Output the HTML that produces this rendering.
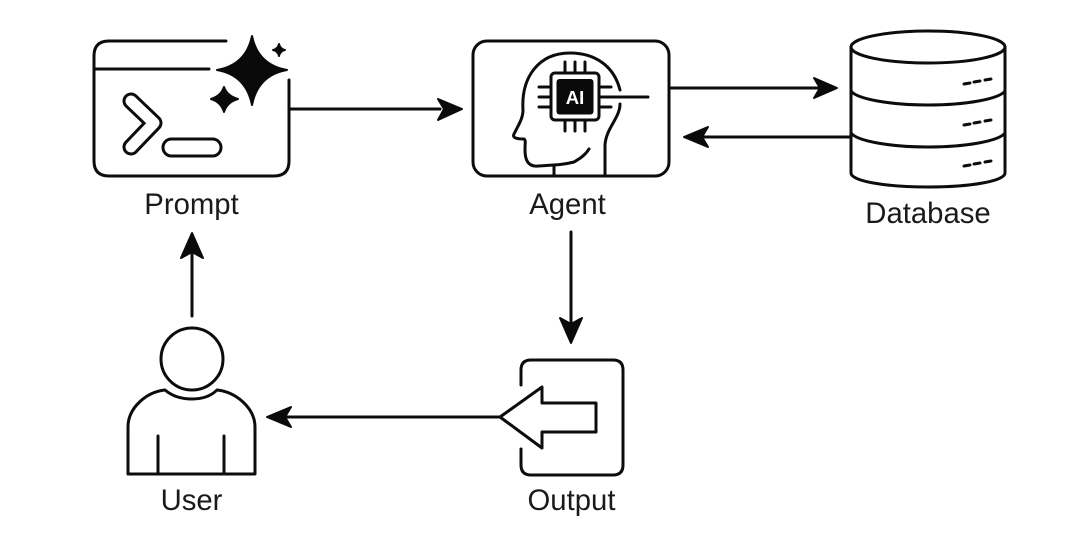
<!DOCTYPE html>
<html>
<head>
<meta charset="utf-8">
<style>
html,body{margin:0;padding:0;background:#fff;width:1080px;height:559px;overflow:hidden}
svg{display:block;filter:blur(.35px)}
text{font-family:"Liberation Sans",Arial,sans-serif;font-size:29.3px;fill:#1a1a1a;text-anchor:middle}
.s{fill:none;stroke:#0c0c0c;stroke-width:3;stroke-linecap:round;stroke-linejoin:round}
.f{fill:#0a0a0a;stroke:#0a0a0a;stroke-width:2;stroke-linejoin:round}
</style>
</head>
<body>
<svg width="1080" height="559" viewBox="0 0 1080 559" xmlns="http://www.w3.org/2000/svg">
<rect width="1080" height="559" fill="#fff"/>

<!-- Prompt -->
<path class="s" d="M226 41H109Q94 41 94 56V161Q94 176 109 176H274Q289 176 289 161V80"/>
<path class="s" d="M94 69H209"/>
<path class="f" d="M252 36Q258 65 287 70Q258 75 252 105Q246 75 217 70Q246 65 252 36Z"/>
<path class="f" d="M224 87Q227 96 238 99Q227 102 224 112Q221 102 211 99Q221 96 224 87Z"/>
<path class="f" stroke-width="1" d="M279 44Q280 49 285 50Q280 51 279 56Q278 51 273 50Q278 49 279 44Z"/>
<path fill="none" stroke="#0c0c0c" stroke-width="17" stroke-linecap="round" stroke-linejoin="round" d="M131 101L154 123L131 147"/>
<path fill="none" stroke="#fff" stroke-width="11" stroke-linecap="round" stroke-linejoin="round" d="M131 101L154 123L131 147"/>
<rect class="s" x="163" y="139" width="58" height="17" rx="8.500"/>
<text x="191.500" y="214">Prompt</text>

<!-- Agent -->
<rect class="s" x="473" y="41" width="196" height="135" rx="14"/>
<path class="s" d="M589 149C584 157 577 160 574 162C562 165 555 165 538 166C528 167 525 160 525 150C525 142 526 140 524 139C517 139 512 138 514 134C519 124 523 118 523 110C521 78 538 53 570 53C595 53 614 66 620 90"/>
<path class="s" d="M620 104C620 118 606 128 605 145V175"/>
<path class="s" d="M554 166V175"/>
<rect class="s" x="551" y="73" width="48" height="47" rx="4"/>
<rect x="556.500" y="79" width="37" height="35.500" rx="3" fill="#0a0a0a"/>
<path class="s" d="M565 62V73M575 62V73M585 62V73M565 120V131M575 120V131M585 120V131M539 87H551M539 97H551M539 107H551M599 87H611M599 107H611"/>
<path class="s" d="M599 97H648"/>
<text x="575" y="104" style="font-size:18.500px;font-weight:bold;fill:#fff">AI</text>
<text x="567.500" y="214">Agent</text>

<!-- Database -->
<ellipse class="s" cx="928" cy="47" rx="77" ry="16"/>
<path class="s" d="M851 47V173C851 181 885 187 928 187C971 187 1005 181 1005 173V47"/>
<path class="s" d="M851 91C857 99 890 105 928 105C966 105 999 99 1005 91"/>
<path class="s" d="M851 133C857 141 890 147 928 147C966 147 999 141 1005 133"/>
<path class="s" d="M964 84L970 83M974 82L980 81M985 80L991 79M964 125L970 124M974 123L980 122M985 121L991 120M964 166L970 165M974 164L980 163M985 162L991 161"/>
<text x="928" y="223">Database</text>

<!-- User -->
<circle class="s" cx="192" cy="359" r="31"/>
<path class="s" d="M128 474V427C128 408 146 392 165 390C172 396 181 399 192 399C203 399 211 396 217 390C236 392 255 408 255 427V474Z"/>
<path class="s" d="M158 436V474M224 436V474"/>
<text x="191.500" y="510">User</text>

<!-- Output -->
<path class="s" d="M521 385V370Q521 360 531 360H613Q623 360 623 370V465Q623 475 613 475H531Q521 475 521 465V449"/>
<path class="s" d="M500 417L542 387V403H596V432H542V448Z"/>
<text x="571.500" y="510">Output</text>

<!-- Connectors -->
<path class="s" d="M289 109H440"/>
<path class="f" d="M462 109L438 99L444 109L438 120Z"/>
<path class="s" d="M669 88H818"/>
<path class="f" d="M837 88L814 78L820 88L814 98Z"/>
<path class="s" d="M851 137H702"/>
<path class="f" d="M684 137L708 127L702 137L708 147Z"/>
<path class="s" d="M571 232V322"/>
<path class="f" d="M571 343L560 318L571 324L582 318Z"/>
<path class="s" d="M500 417H286"/>
<path class="f" d="M267 417L291 407L285 417L291 427Z"/>
<path class="s" d="M192 316V252"/>
<path class="f" d="M192 233L181 258L192 252L203 258Z"/>
</svg>
</body>
</html>
